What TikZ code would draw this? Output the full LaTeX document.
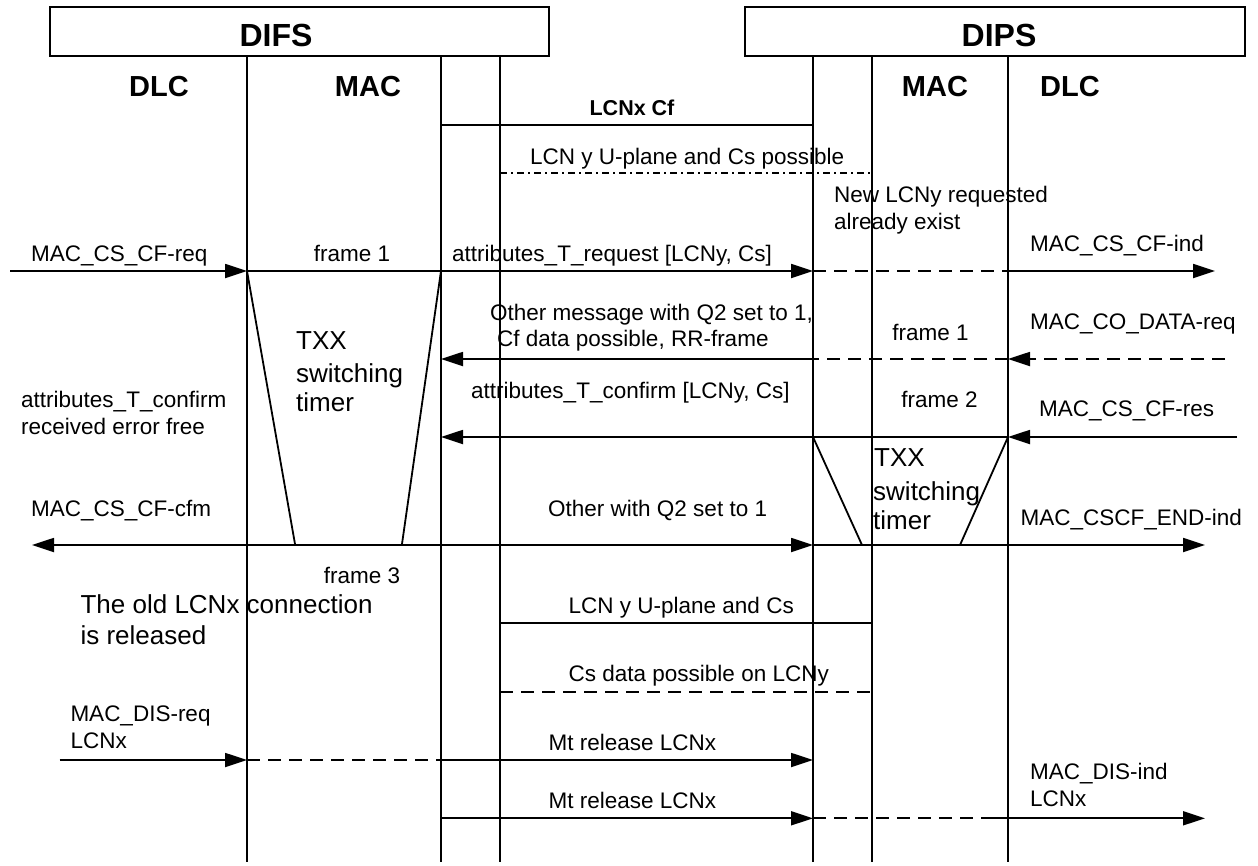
\documentclass[tikz,border=0pt]{standalone}
\usepackage{fontspec}
\setmainfont{Liberation Sans}
\usetikzlibrary{arrows.meta}
\begin{document}
\begin{tikzpicture}[x=1pt,y=-1pt,
  ln/.style={line width=1.8pt},
  arr/.style={ln,-{Triangle[length=22pt,width=14pt]}},
  dsh/.style={ln,dash pattern=on 13pt off 8pt},
  dshdot/.style={line width=1.6pt,dash pattern=on 7pt off 4pt on 2pt off 4pt},
  txt/.style={inner sep=0pt,font=\fontsize{22.5}{27}\selectfont},
  bigtxt/.style={inner sep=0pt,anchor=base west,font=\fontsize{26}{31}\selectfont},
  hdr/.style={inner sep=0pt,anchor=base,font=\bfseries\fontsize{29}{34}\selectfont},
  ttl/.style={inner sep=0pt,anchor=base,font=\bfseries\fontsize{32}{38}\selectfont},
  lw/.style={txt,anchor=base west},
  lc/.style={txt,anchor=base}]
\useasboundingbox (0,0) rectangle (1258,865);
% boxes
\draw[ln] (50,7) rectangle (549,56);
\draw[ln] (745,7) rectangle (1245,56);
\node[ttl] (difs) at (276,46.5) {DIFS};
\node[ttl] (dips) at (999,46.5) {DIPS};
\node[hdr] (dlcL) at (159,96) {DLC};
\node[hdr] (macL) at (368,96) {MAC};
\node[hdr] (macR) at (935,96) {MAC};
\node[hdr] (dlcR) at (1070,96) {DLC};
% lifelines
\coordinate (L1) at (247,56);
\coordinate (L2) at (441,56);
\coordinate (L3) at (500,56);
\coordinate (R1) at (813,56);
\coordinate (R2) at (872,56);
\coordinate (R3) at (1008,56);
\foreach \l in {L1,L2,L3,R1,R2,R3} \draw[ln] (\l) -- (\l |- 0,862);
% row 1
\draw[ln] (L2 |- 0,125) -- (R1 |- 0,125);
\node[txt,anchor=base,font=\bfseries\fontsize{21.5}{26}\selectfont] (lcnxcf) at (632,115) {LCNx Cf};
% row 2
\draw[dshdot] (L3 |- 0,172.7) -- (R2 |- 0,172.7);
\node[lw] (m2) at (530,164) {LCN y U-plane and Cs possible};
% row 3
\coordinate (s3) at (10,271);
\coordinate (e3) at (1215,271);
\draw[arr] (s3) -- (L1 |- s3);
\draw[ln] (L1 |- s3) -- (L2 |- s3);
\draw[arr] (L2 |- s3) -- (R1 |- s3);
\draw[dsh] (R1 |- s3) -- (R3 |- s3);
\draw[arr] (R3 |- s3) -- (e3);
\node[lw] (t3a) at (31,261.7) {MAC\_CS\_CF-req};
\node[lc] (t3b) at (352,261.7) {frame 1};
\node[lw] (t3c) at (452,261.7) {attributes\_T\_request [LCNy, Cs]};
\node[lw] (t3d) at (834,202.7) {New LCNy requested};
\node[lw] (t3e) at (834,229.3) {already exist};
\node[lw] (t3f) at (1030,251.7) {MAC\_CS\_CF-ind};
% row 4
\coordinate (s4) at (1225,359);
\draw[dsh,-{Triangle[length=22pt,width=14pt]}] (s4) -- (R3 |- s4);
\draw[dsh] (R3 |- s4) -- (R1 |- s4);
\draw[arr] (R1 |- s4) -- (L2 |- s4);
\node[lw] (t4a) at (490,320) {Other message with Q2 set to 1,};
\node[lw] (t4b) at (497,346.7) {Cf data possible, RR-frame};
\node[lc] (t4c) at (930.5,340) {frame 1};
\node[lw] (t4d) at (1030,329.3) {MAC\_CO\_DATA-req};
% row 5
\coordinate (s5) at (1237,437);
\draw[arr] (s5) -- (R3 |- s5);
\draw[ln] (R3 |- s5) -- (R1 |- s5);
\draw[arr] (R1 |- s5) -- (L2 |- s5);
\node[lw] (t5a) at (471,398.3) {attributes\_T\_confirm [LCNy, Cs]};
\node[lc] (t5b) at (939.4,407.3) {frame 2};
\node[lw] (t5c) at (1039,416.7) {MAC\_CS\_CF-res};
\node[lw] (t5d) at (21,407.3) {attributes\_T\_confirm};
\node[lw] (t5e) at (21,434) {received error free};
% timers
\draw[ln] (L1 |- s3) -- (295,544);
\draw[ln] (L2 |- s3) -- (402,544);
\draw[ln] (R1 |- s5) -- (862,545);
\draw[ln] (R3 |- s5) -- (960,545);
\node[bigtxt] (tx1) at (296,349) {TXX};
\node[bigtxt] (tx2) at (296,382.7) {switching};
\node[bigtxt] (tx3) at (296,411.7) {timer};
\node[bigtxt] (tx4) at (874,466.7) {TXX};
\node[bigtxt] (tx5) at (873,500) {switching};
\node[bigtxt] (tx6) at (873,529.3) {timer};
% row 6
\coordinate (e6l) at (32,545);
\coordinate (e6r) at (1205,545);
\draw[arr] (L2 |- e6l) -- (e6l);
\draw[arr] (L2 |- e6l) -- (R1 |- e6l);
\draw[arr] (R1 |- e6l) -- (e6r);
\node[lw] (t6a) at (31,516.7) {MAC\_CS\_CF-cfm};
\node[lw] (t6b) at (548,516.7) {Other with Q2 set to 1};
\node[lw] (t6c) at (1020.5,525) {MAC\_CSCF\_END-ind};
\node[lc] (t6d) at (362,583) {frame 3};
\node[bigtxt] (old1) at (80.4,613.3) {The old LCNx connection};
\node[bigtxt] (old2) at (80.4,644) {is released};
% row 7, 8
\draw[ln] (L3 |- 0,622.7) -- (R2 |- 0,622.7);
\node[lw] (t7) at (568.5,613.3) {LCN y U-plane and Cs};
\draw[dsh] (L3 |- 0,691.7) -- (R2 |- 0,691.7);
\node[lw] (t8) at (568.5,681.7) {Cs data possible on LCNy};
% row 9
\coordinate (s9) at (59.5,760);
\draw[arr] (s9) -- (L1 |- s9);
\draw[dsh] (L1 |- s9) -- (L2 |- s9);
\draw[arr] (L2 |- s9) -- (R1 |- s9);
\node[lw] (t9a) at (70.3,721.7) {MAC\_DIS-req};
\node[lw] (t9b) at (70.3,748.3) {LCNx};
\node[lw] (t9c) at (548.4,750) {Mt release LCNx};
% row 10
\coordinate (e10) at (1205,818.3);
\coordinate (d10) at (990,818.3);
\draw[arr] (L2 |- e10) -- (R1 |- e10);
\draw[dsh] (R1 |- e10) -- (d10);
\draw[arr] (d10) -- (e10);
\node[lw] (t10a) at (548.4,808.3) {Mt release LCNx};
\node[lw] (t10b) at (1030,779.3) {MAC\_DIS-ind};
\node[lw] (t10c) at (1030,806.7) {LCNx};
\end{tikzpicture}
\end{document}
